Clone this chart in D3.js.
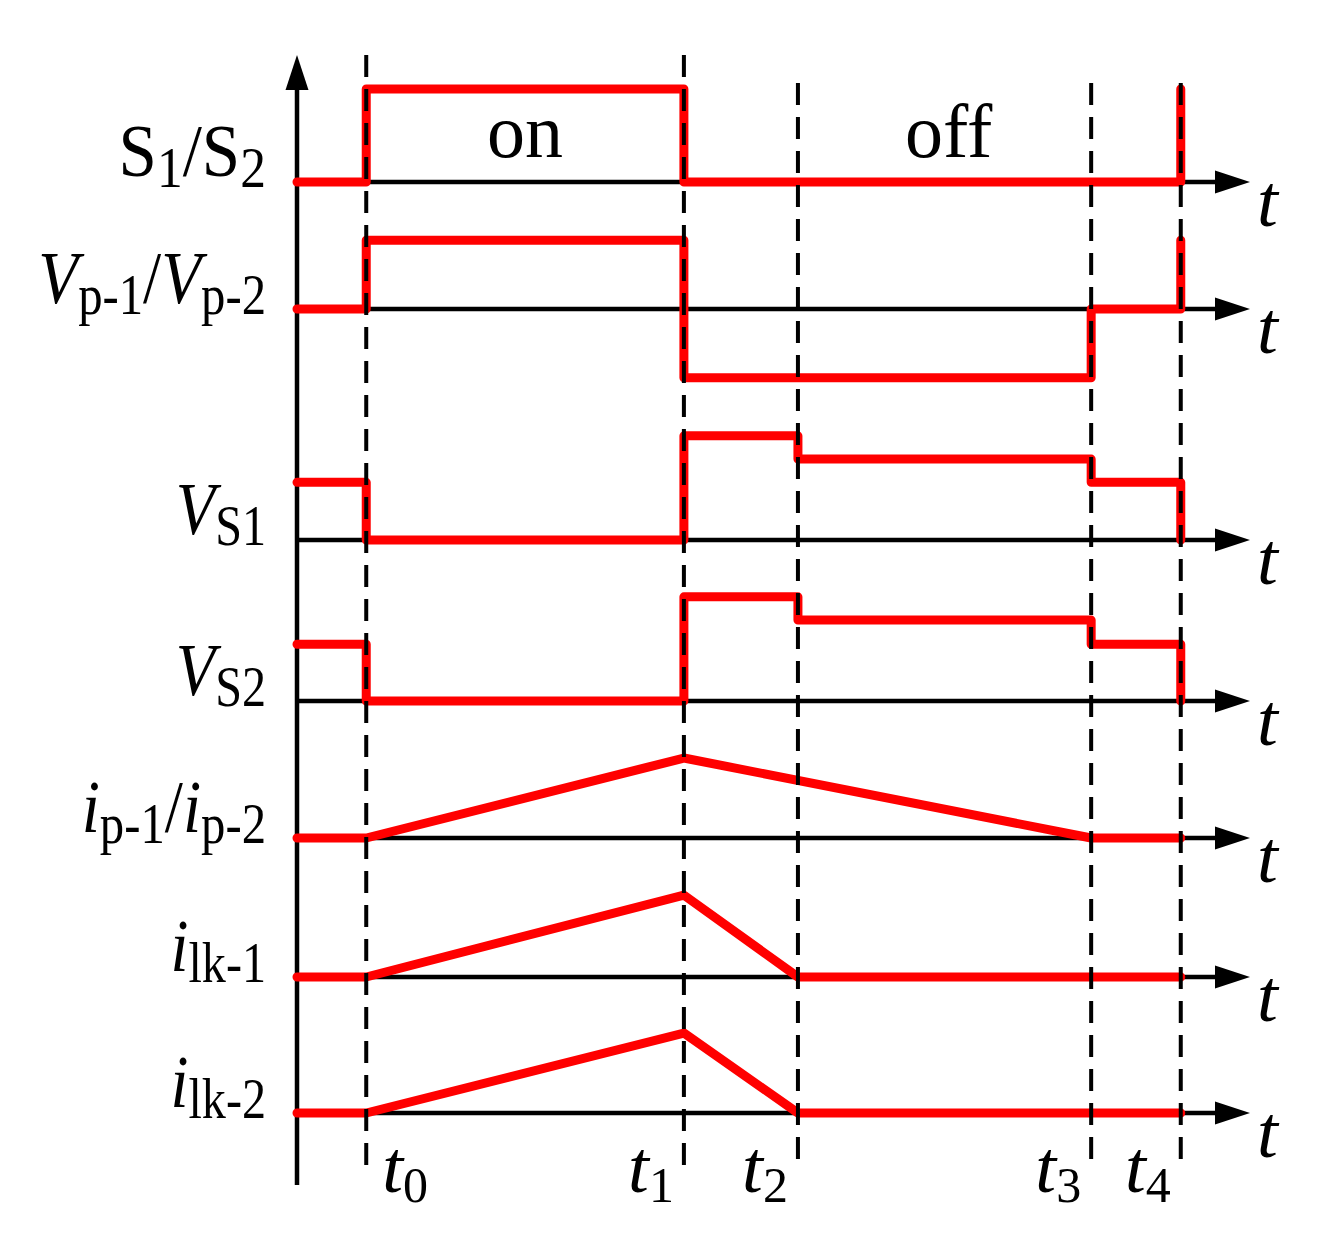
<!DOCTYPE html>
<html><head><meta charset="utf-8">
<script src="https://cdn.jsdelivr.net/npm/d3@7"></script>
<style>body{margin:0;background:#fff}</style>
</head><body><svg id="c" width="1324" height="1244"></svg>
<script>
// ---- data ----
const timeNames = ["0", "1", "2", "3", "4"];
const timeValues = [0, 3.9, 5.3, 8.9, 10];
const phaseNames = ["on", "off"];
const phaseTimes = [1.95, 7.15];
// label parts: [text, style]  style: "" upright, "it" italic, "sub" subscript
const labelS = [["S", ""], ["1", "sub"], ["/", ""], ["S", ""], ["2", "sub"]];
const labelVp = [["V", "it"], ["p-1", "sub"], ["/", ""], ["V", "it"], ["p-2", "sub"]];
const labelVS1 = [["V", "it"], ["S1", "sub"]];
const labelVS2 = [["V", "it"], ["S2", "sub"]];
const labelIp = [["i", "it"], ["p-1", "sub"], ["/", ""], ["i", "it"], ["p-2", "sub"]];
const labelIlk1 = [["i", "it"], ["lk-1", "sub"]];
const labelIlk2 = [["i", "it"], ["lk-2", "sub"]];
// waveforms: [time, level]
const waveS = [[-0.85, 0], [0, 0], [0, 1], [3.9, 1], [3.9, 0], [10, 0], [10, 1]];
const waveVp = [[-0.85, 0], [0, 0], [0, 0.74], [3.9, 0.74], [3.9, -0.74], [8.9, -0.74], [8.9, 0], [10, 0], [10, 0.74]];
const waveVS1 = [[-0.85, 0.62], [0, 0.62], [0, 0], [3.9, 0], [3.9, 1.12], [5.3, 1.12], [5.3, 0.87], [8.9, 0.87], [8.9, 0.62], [10, 0.62], [10, 0]];
const waveVS2 = [[-0.85, 0.61], [0, 0.61], [0, 0], [3.9, 0], [3.9, 1.12], [5.3, 1.12], [5.3, 0.87], [8.9, 0.87], [8.9, 0.61], [10, 0.61], [10, 0]];
const waveIp = [[-0.85, 0], [0, 0], [3.9, 0.86], [8.9, 0], [10, 0]];
const waveIlk1 = [[-0.85, 0], [0, 0], [3.9, 0.88], [5.3, 0], [10, 0]];
const waveIlk2 = [[-0.85, 0], [0, 0], [3.9, 0.86], [5.3, 0], [10, 0]];

// ---- layout ----
const rowBase = [182, 309, 540, 701, 838, 977, 1113];
const rows = [
  {label: labelS, wave: waveS, sx: 0.92},
  {label: labelVp, wave: waveVp, sx: 0.87},
  {label: labelVS1, wave: waveVS1, sx: 0.86},
  {label: labelVS2, wave: waveVS2, sx: 0.86},
  {label: labelIp, wave: waveIp, sx: 0.87},
  {label: labelIlk1, wave: waveIlk1, sx: 0.86},
  {label: labelIlk2, wave: waveIlk2, sx: 0.86}
];
const FONT = "'Liberation Serif','Times New Roman',serif";
const MAIN = 75, SUB = 56, SUBDY = 11;

const svg = d3.select("#c");
const x = d3.scaleLinear().domain([-0.85, 10.85]).range([297, 1250]);
const amp = d3.scaleLinear().domain([0, 1]).range([0, -93]);

// vertical axis
svg.append("line").attr("x1", x(-0.85)).attr("x2", x(-0.85))
  .attr("y1", 1185).attr("y2", 88).attr("stroke", "#000").attr("stroke-width", 4.5);
svg.append("path").attr("d", `M${x(-0.85)},55 L${x(-0.85) - 11.5},90 L${x(-0.85) + 11.5},90 Z`).attr("fill", "#000");

const line = d3.line();

rows.forEach((r, i) => {
  const y0 = rowBase[i];
  const g = svg.append("g");
  // axis
  g.append("line").attr("x1", x(-0.85)).attr("x2", x(10.85) - 33)
    .attr("y1", y0).attr("y2", y0).attr("stroke", "#000").attr("stroke-width", 4.5);
  g.append("path").attr("d", `M${x(10.85)},${y0} L${x(10.85) - 35},${y0 - 11.5} L${x(10.85) - 35},${y0 + 11.5} Z`).attr("fill", "#000");
  // t label
  g.append("text").attr("x", 1257).attr("y", y0 + 44)
    .attr("font-family", FONT).attr("font-size", MAIN).attr("font-style", "italic").text("t");
  // waveform
  g.append("path").attr("d", line(r.wave.map(p => [x(p[0]), y0 + amp(p[1])])))
    .attr("fill", "none").attr("stroke", "#ff0000").attr("stroke-width", 9)
    .attr("stroke-linejoin", "round").attr("stroke-linecap", "round");
  // label
  const t = g.append("text").attr("transform", `translate(266,${y0 - 6}) scale(${r.sx},1)`)
    .attr("text-anchor", "end")
    .attr("font-family", FONT).attr("font-size", MAIN);
  let down = false;
  r.label.forEach(([txt, st]) => {
    const ts = t.append("tspan").text(txt);
    if (st === "sub") {
      ts.attr("font-size", SUB);
      if (!down) { ts.attr("dy", SUBDY); down = true; }
    } else {
      if (down) { ts.attr("dy", -SUBDY); down = false; }
      if (st === "it") ts.attr("font-style", "italic");
    }
  });
});

// dashed time markers (drawn on top)
timeValues.forEach((tv, i) => {
  svg.append("line").attr("x1", x(tv)).attr("x2", x(tv))
    .attr("y1", i < 2 ? 55 : 83).attr("y2", 1165)
    .attr("stroke", "#000").attr("stroke-width", 4).attr("stroke-dasharray", "22,12");
  const lab = svg.append("text").attr("font-family", FONT).attr("font-size", MAIN)
    .attr("y", 1192)
    .attr("x", i === 0 ? x(tv) + 16 : x(tv) - 10)
    .attr("text-anchor", i === 0 ? "start" : "end");
  lab.append("tspan").attr("font-style", "italic").text("t");
  lab.append("tspan").attr("font-size", 50).attr("dy", 10).text(timeNames[i]);
});

// phase labels
phaseNames.forEach((p, i) => {
  svg.append("text").attr("x", x(phaseTimes[i])).attr("y", 157).attr("text-anchor", "middle")
    .attr("font-family", FONT).attr("font-size", 76).text(p);
});
</script></body></html>
